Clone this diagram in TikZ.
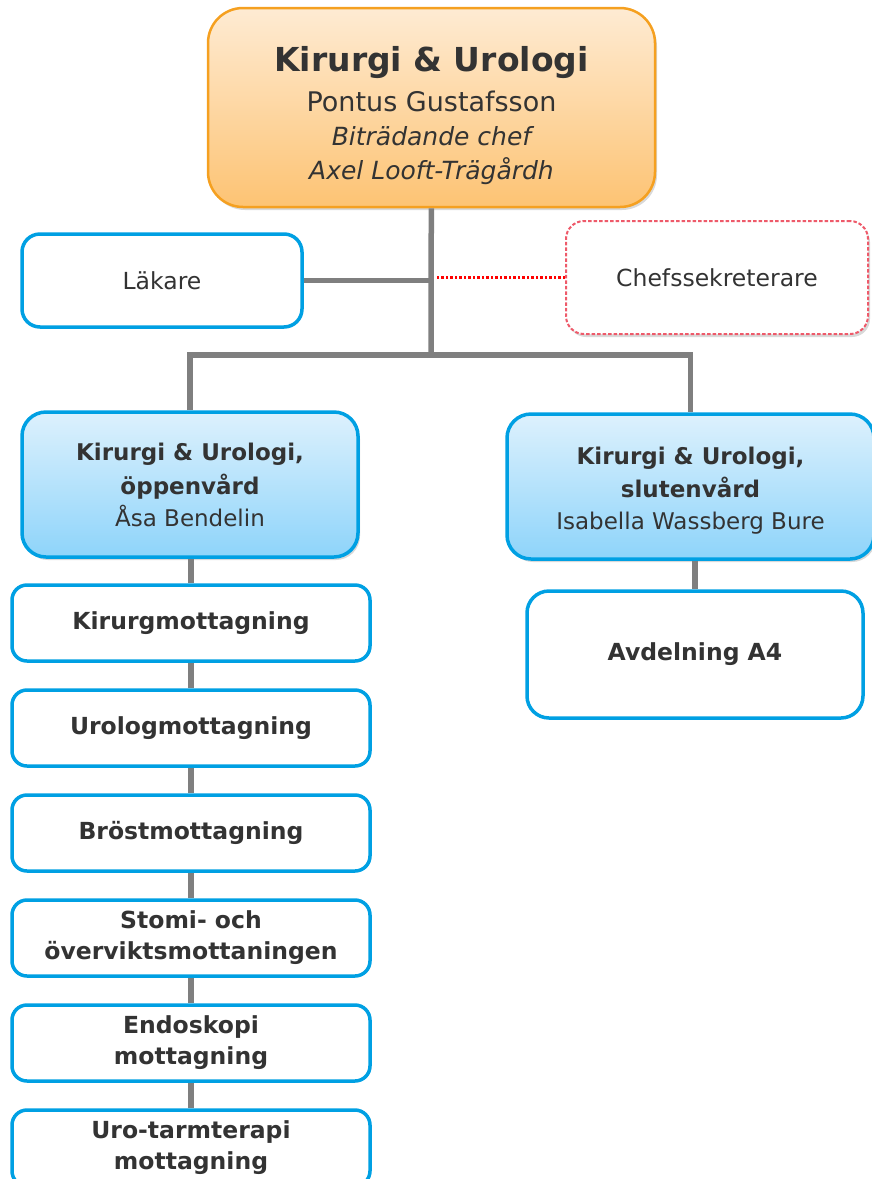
\documentclass[tikz,border=0pt]{standalone}
\usepackage{fontspec}
\setmainfont{DejaVu Sans}
\usetikzlibrary{shadows,positioning}

\definecolor{orgline}{HTML}{F5A020}
\definecolor{orgtop}{HTML}{FEEBD3}
\definecolor{orgbot}{HTML}{FDC373}
\definecolor{bluline}{HTML}{00A0E3}
\definecolor{blutop}{HTML}{DDF1FD}
\definecolor{blubot}{HTML}{8ED4FA}
\definecolor{txt}{HTML}{333333}
\definecolor{conn}{HTML}{7F7F7F}
\definecolor{secline}{HTML}{EE5A6A}

\begin{document}
\begin{tikzpicture}[x=1pt,y=-1pt,node distance=105pt,every text node part/.style={align=center},
  chief/.style={draw=orgline,line width=2.5pt,rounded corners=35pt,top color=orgtop,bottom color=orgbot,
    minimum width=447pt,minimum height=199pt,text=txt,font=\fontsize{27}{34}\selectfont,
    drop shadow={opacity=0.3,shadow xshift=2pt,shadow yshift=-3pt}},
  unit/.style={draw=bluline,line width=3.5pt,rounded corners=24pt,top color=blutop,bottom color=blubot,
    minimum height=145pt,text=txt,font=\fontsize{23}{32}\selectfont,drop shadow={opacity=0.3,shadow xshift=2pt,shadow yshift=-3pt}},
  staff/.style={draw=bluline,line width=3.5pt,rounded corners=18pt,fill=white,text=txt,
    minimum width=280pt,minimum height=93pt,font=\fontsize{23.5}{28}\selectfont},
  clinic/.style={draw=bluline,line width=3.5pt,rounded corners=15pt,fill=white,text=txt,
    minimum width=358pt,minimum height=76pt,font=\bfseries\fontsize{23.5}{31}\selectfont},
  conn/.style={draw=conn,line width=5.5pt}]
  \useasboundingbox (0,0) rectangle (871,1179);

  \node[chief] (chef) at (431.5,107.5) {\rule{0pt}{42pt}{\bfseries\fontsize{33}{40}\selectfont Kirurgi \& Urologi}\\[6pt]
    Pontus Gustafsson\\
    {\itshape\fontsize{25}{33}\selectfont Biträdande chef}\\
    {\itshape\fontsize{25}{33}\selectfont Axel Looft-Trägårdh}};
  \node[staff] (lak) at (162,280.5) {Läkare};
  \node[staff,draw=secline,dotted,line width=2pt,minimum width=302pt,minimum height=113pt,
    drop shadow={opacity=0.3,shadow xshift=2pt,shadow yshift=-3pt}] (sek) at (717,277.5) {Chefssekreterare};
  \coordinate (bus) at (431,355);

  \node[unit,minimum width=336pt] (oppen) at (190,484.5) {\textbf{Kirurgi \& Urologi,}\\[2pt] \textbf{öppenvård}\\ Åsa Bendelin};
  \node[unit,minimum width=367pt] (sluten) at (690.5,486.5) {\rule{0pt}{25pt}\textbf{Kirurgi \& Urologi,}\\[1pt] \textbf{slutenvård}\\ Isabella Wassberg Bure};
  \node[clinic,minimum width=336pt,minimum height=127pt,rounded corners=22pt] (avd) at (695,654.5) {Avdelning A4};

  \node[clinic] (kir) at (191,623) {Kirurgmottagning};
  \node[clinic] (uro) [below of=kir] {Urologmottagning};
  \node[clinic] (bro) [below of=uro] {Bröstmottagning};
  \node[clinic] (sto) [below of=bro] {Stomi- och\\ överviktsmottaningen};
  \node[clinic] (endo) [below of=sto] {Endoskopi\\ mottagning};
  \node[clinic] (tarm) [below of=endo] {Uro-tarmterapi\\ mottagning};

  \draw[conn] (chef) -- (bus);
  \draw[conn] (lak.east) -- (lak.east -| chef.south);
  \draw[draw=red,dotted,line width=2.5pt] (sek.west) -- ([xshift=5pt]sek.west -| chef.south);
  \draw[conn] (oppen.north) |- (bus) -| (sluten.north);
  \draw[conn] (sluten.south -| avd.north) -- (avd.north);
  \foreach \a/\b in {oppen/kir,kir/uro,uro/bro,bro/sto,sto/endo,endo/tarm}
    \draw[conn] (\a.south -| kir.north) -- (\b.north -| kir.north);
\end{tikzpicture}
\end{document}
